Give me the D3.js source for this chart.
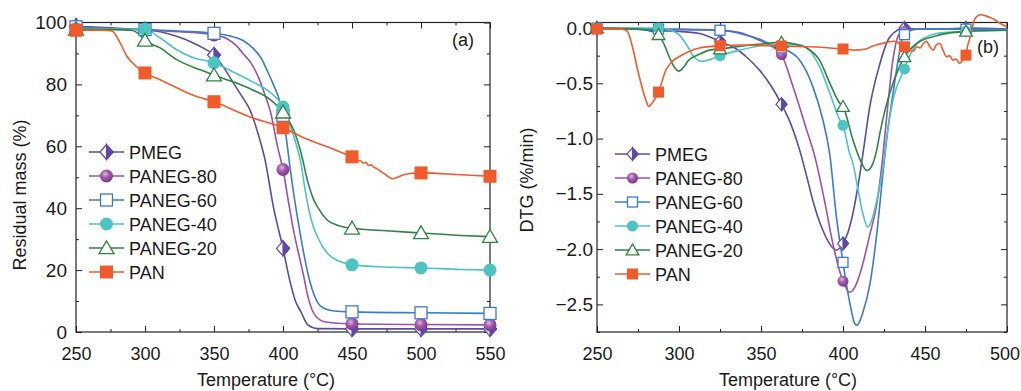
<!DOCTYPE html>
<html>
<head>
<meta charset="utf-8">
<script src="https://cdn.jsdelivr.net/npm/d3@7"></script>
<style>
body { margin: 0; background: #fff; }
svg { font-family: "Liberation Sans", Arial, sans-serif; }
</style>
</head>
<body>
<svg id="chart" width="1021" height="391"></svg>
<script>
// ---- (a) TGA residual mass (%) vs temperature ----
var tgaPMEG = [[250,98.8],[275,98.3],[300,97.6],[311,97],[325,95.2],[335,93.4],[342,91.8],[350,89.5],[357,85.5],[364,80.5],[370,76.3],[376,71.8],[382,64],[387,55.6],[393,40.5],[400,27],[405,16.5],[409,10],[413,6.5],[418,2.3],[425,1.1],[450,1],[500,1],[550,1]];
var tgaPANEG80 = [[250,98.5],[275,98],[300,97.6],[325,97],[350,96],[360,94.6],[366,92.6],[371,90],[377,86.8],[382,82.5],[387,76.5],[391,71],[396,60],[400,52.5],[404,42],[408,32],[412,24],[415,18],[418,11.5],[421,7.2],[425,4.5],[430,3.3],[437,2.9],[450,2.6],[500,2.4],[550,2.3]];
var tgaPANEG60 = [[250,98.6],[275,98],[300,97.7],[325,97.2],[350,96.5],[362,95.6],[371,94.2],[378,91.8],[384,88.6],[389,84],[393,80],[397,75.5],[400,70],[402,64],[404,57],[408,44],[412,33],[415,25.5],[418,19],[421,14],[425,9.6],[430,7.6],[437,6.8],[450,6.5],[500,6.2],[550,6]];
var tgaPANEG40 = [[250,98],[275,97.9],[290,97.8],[300,97.8],[311,95],[323,91.2],[335,88.6],[350,87],[364,84],[378,80.8],[391,77.3],[400,72.7],[405,67],[409,61.5],[413,54.5],[416,46],[419,39],[422,34],[425,30.7],[432,25.5],[440,23],[450,21.7],[475,21],[500,20.7],[529,20.2],[550,20]];
var tgaPANEG20 = [[250,97.8],[275,97.7],[290,97.5],[295,96.5],[300,94.2],[311,91.8],[323,88],[340,84.7],[350,83],[364,80.8],[378,78.2],[391,75],[400,71],[408,65],[413,58],[418,48.5],[422,43],[425,40.4],[432,36.2],[440,34.4],[450,33.5],[475,32.7],[500,32],[529,31.2],[550,30.8]];
var tgaPAN = [[250,97.5],[270,97.5],[276,97.3],[282,93.4],[287,89],[294,85.7],[300,83.7],[311,81.5],[323,78.9],[335,76.5],[350,74.4],[376,69.5],[400,66],[413,63.2],[425,61],[437,59],[450,56.6],[452,56.2],[454,55.2],[456,55.4],[458,54.6],[460,54.8],[462,53.8],[464,54],[466,53.2],[468,52.8],[470,52.2],[472,51.5],[474,51],[476,50.3],[479,49.5],[483,50],[487.5,50.8],[492,51.2],[500,51.4],[529,50.8],[550,50.3]];

// ---- (b) DTG (%/min) vs temperature ----
var dtgPMEG = [[250,0],[284,-0.02],[287.5,-0.025],[300,-0.03],[312.5,-0.05],[325,-0.12],[335,-0.19],[341,-0.26],[349,-0.38],[356,-0.52],[362.5,-0.69],[368,-0.86],[373.5,-1.1],[378,-1.35],[381.6,-1.56],[387.7,-1.83],[393.8,-1.99],[396,-2.01],[398,-1.99],[400,-1.95],[403,-1.85],[406,-1.68],[410,-1.35],[413,-1.05],[416,-0.74],[422,-0.35],[428.6,-0.08],[437.5,0.0],[445,-0.01],[460,-0.01],[475,0.0],[500,-0.01]];
var dtgPANEG80 = [[250,0],[287.5,-0.01],[325,-0.02],[337,-0.04],[349,-0.11],[356,-0.16],[362.5,-0.24],[369.5,-0.53],[377.8,-0.92],[382.6,-1.15],[388.7,-1.56],[393.8,-1.95],[400,-2.29],[404,-2.39],[407,-2.35],[410.4,-2.22],[416.5,-1.86],[420.5,-1.6],[424,-1.2],[427,-0.75],[430.4,-0.29],[434.5,-0.05],[437.5,-0.03],[445,-0.01],[475,-0.01],[500,-0.01]];
var dtgPANEG60 = [[250,0],[287.5,-0.01],[325,-0.02],[340,-0.06],[349,-0.1],[355,-0.14],[362.5,-0.18],[373.5,-0.29],[381.6,-0.53],[387.7,-0.83],[392,-1.15],[396,-1.71],[400,-2.12],[402,-2.31],[405,-2.55],[407,-2.67],[408.5,-2.69],[410,-2.66],[412,-2.58],[416.5,-2.31],[420.6,-1.86],[424.4,-1.31],[427.5,-0.9],[430.4,-0.6],[433.5,-0.3],[436,-0.1],[437.5,-0.06],[445,-0.01],[475,-0.01],[500,-0.01]];
var dtgPANEG40 = [[250,0],[287.5,0],[295,-0.02],[300,-0.06],[305,-0.16],[309,-0.26],[314,-0.3],[320,-0.28],[325,-0.25],[337,-0.2],[350,-0.16],[362.5,-0.15],[372,-0.15],[378,-0.18],[385.7,-0.35],[392,-0.59],[398,-0.83],[400,-0.88],[404,-1.13],[406,-1.22],[409,-1.45],[412,-1.67],[415,-1.8],[417,-1.76],[420.6,-1.56],[424.4,-1.26],[427,-0.95],[430.5,-0.65],[437.5,-0.37],[441,-0.24],[445,-0.14],[451,-0.08],[457,-0.05],[475,-0.03],[500,-0.02]];
var dtgPANEG20 = [[250,0],[275,-0.01],[283,-0.03],[287.5,-0.06],[291,-0.15],[294,-0.26],[297,-0.35],[300,-0.39],[303,-0.35],[306,-0.29],[312,-0.24],[318.6,-0.2],[325,-0.19],[340,-0.16],[350,-0.145],[362.5,-0.13],[372,-0.15],[377.8,-0.18],[385.7,-0.29],[392,-0.5],[398,-0.68],[400,-0.71],[406,-1.01],[410.4,-1.19],[414.6,-1.29],[417.5,-1.25],[420.6,-1.1],[422.5,-0.95],[426,-0.72],[430.5,-0.5],[437.5,-0.26],[445,-0.14],[457,-0.07],[475,-0.03],[500,-0.02]];
var dtgPAN = [[250,-0.01],[265,-0.01],[268.5,-0.03],[271.6,-0.17],[274.8,-0.38],[277.9,-0.56],[280,-0.66],[281.5,-0.71],[283.5,-0.68],[287.5,-0.58],[292,-0.38],[296,-0.3],[300,-0.26],[312.5,-0.18],[325,-0.16],[337,-0.154],[362.5,-0.163],[380,-0.17],[400,-0.19],[408,-0.2],[414,-0.19],[418,-0.163],[421,-0.15],[426.6,-0.13],[431,-0.12],[437.5,-0.17],[440,-0.19],[442.7,-0.21],[445,-0.17],[447,-0.18],[449,-0.14],[451,-0.12],[453,-0.17],[455,-0.2],[457,-0.15],[459,-0.14],[461,-0.2],[463,-0.26],[465,-0.25],[467,-0.29],[469,-0.28],[471,-0.32],[472.5,-0.3],[475,-0.245],[476,-0.16],[477,-0.11],[478.5,-0.02],[480,0.07],[482,0.11],[484,0.12],[487,0.11],[489,0.1],[492,0.08],[495.5,0.045],[500,0.01]];

var seriesNames = ["PMEG", "PANEG-80", "PANEG-60", "PANEG-40", "PANEG-20", "PAN"];
var seriesColors = ["#5a4ca6", "#9b52a7", "#3b7cc9", "#4ec4c2", "#2f8443", "#f15a2b"];
var seriesMarkers = ["halfDiamond", "sphere", "openSquare", "circle", "openTriangle", "square"];

var tgaMarkerTemps = [250, 300, 350, 400, 450, 500, 550];
var dtgMarkerTemps = [250, 287.5, 325, 362.5, 400, 437.5, 475];

var tgaXTicks = [250, 300, 350, 400, 450, 500, 550];
var tgaYTicks = [0, 20, 40, 60, 80, 100];
var dtgXTicks = [250, 300, 350, 400, 450, 500];
var dtgYTicks = [0, -0.5, -1.0, -1.5, -2.0, -2.5];

var svg = d3.select("svg#chart");

var defs = svg.append("defs");
var grad = defs.append("radialGradient")
    .attr("id", "sphereGrad")
    .attr("cx", "40%").attr("cy", "35%").attr("r", "65%");
grad.append("stop").attr("offset", "0%").attr("stop-color", "#d9b8df");
grad.append("stop").attr("offset", "45%").attr("stop-color", "#a35aae");
grad.append("stop").attr("offset", "100%").attr("stop-color", "#7c3789");

function drawMarker(g, type, color, s) {
    if (type == "halfDiamond") {
        g.append("path")
            .attr("d", "M0," + (-s * 1.15) + "L" + s + ",0L0," + (s * 1.15) + "L" + (-s) + ",0Z")
            .attr("fill", "#fff").attr("stroke", color).attr("stroke-width", 1.2);
        g.append("path")
            .attr("d", "M0," + (-s * 1.15) + "L" + s + ",0L0," + (s * 1.15) + "Z")
            .attr("fill", color).attr("stroke", color).attr("stroke-width", 1.2);
    } else if (type == "sphere") {
        g.append("circle").attr("r", s).attr("fill", "url(#sphereGrad)");
    } else if (type == "openSquare") {
        g.append("rect").attr("x", -s + 0.5).attr("y", -s + 0.5)
            .attr("width", 2 * s - 1).attr("height", 2 * s - 1)
            .attr("fill", "#fff").attr("stroke", color).attr("stroke-width", 1.3);
    } else if (type == "circle") {
        g.append("circle").attr("r", s).attr("fill", color);
    } else if (type == "openTriangle") {
        var h = s * 1.1;
        g.append("path")
            .attr("d", "M0," + (-h) + "L" + (s * 1.15) + "," + (h * 0.8) + "L" + (-s * 1.15) + "," + (h * 0.8) + "Z")
            .attr("fill", "#fff").attr("stroke", color).attr("stroke-width", 1.3);
    } else if (type == "square") {
        g.append("rect").attr("x", -s).attr("y", -s)
            .attr("width", 2 * s).attr("height", 2 * s).attr("fill", color);
    }
}

function minorTicks(major) {
    var out = [];
    for (var i = 0; i < major.length - 1; i++) {
        out.push((major[i] + major[i + 1]) / 2);
    }
    return out;
}

function drawPanel(opt) {
    var g = svg.append("g");

    var x = d3.scaleLinear().domain(opt.xDomain).range([opt.left, opt.right]);
    var y = d3.scaleLinear().domain(opt.yDomain).range([opt.bottom, opt.top]);

    var xMinor = minorTicks(opt.xTicks);
    var yMinor = minorTicks(opt.yTicks.slice().sort(d3.ascending));
    if (opt.yExtraMinor) yMinor = yMinor.concat(opt.yExtraMinor);

    // major/minor ticks, pointing inward on all four sides
    var axes = [
        { a: d3.axisBottom(x), tr: "translate(0," + opt.bottom + ")", major: opt.xTicks, minor: xMinor, label: true, fmt: d3.format("d"), pad: 15, size: "18px" },
        { a: d3.axisTop(x), tr: "translate(0," + opt.top + ")", major: opt.xTicks, minor: xMinor, label: false },
        { a: d3.axisLeft(y), tr: "translate(" + opt.left + ",0)", major: opt.yTicks, minor: yMinor, label: true, fmt: opt.yFormat, pad: opt.yPad, size: "19px" },
        { a: d3.axisRight(y), tr: "translate(" + opt.right + ",0)", major: opt.yTicks, minor: yMinor, label: false }
    ];
    axes.forEach(function(ax, k) {
        var ag = g.append("g").attr("transform", ax.tr)
            .call(ax.a.tickValues(ax.major).tickSize(-6).tickPadding(ax.pad || 3)
                .tickFormat(ax.label ? ax.fmt : ""));
        ag.select(".domain").remove();
        ag.selectAll("text").style("font-size", ax.size || "18px").attr("fill", "#1a1a1a");
        ag.selectAll("line").attr("stroke", "#222");
        var mg = g.append("g").attr("transform", ax.tr)
            .call(ax.a.tickValues(ax.minor).tickSize(-3).tickFormat(""));
        mg.select(".domain").remove();
        mg.selectAll("line").attr("stroke", "#222");
        if (k == 0 && opt.lastLabelShift) {
            ag.selectAll(".tick text").filter(function(d) { return d == opt.xDomain[1]; })
                .attr("dx", opt.lastLabelShift);
        }
    });

    g.append("rect")
        .attr("x", opt.left).attr("y", opt.top)
        .attr("width", opt.right - opt.left).attr("height", opt.bottom - opt.top)
        .attr("fill", "none").attr("stroke", "#222").attr("stroke-width", 1.2);

    var line = d3.line()
        .x(function(d) { return x(d[0]); })
        .y(function(d) { return y(d[1]); })
        .curve(d3.curveMonotoneX);

    opt.series.forEach(function(data, i) {
        g.append("path")
            .datum(data)
            .attr("d", line)
            .attr("fill", "none")
            .attr("stroke", seriesColors[i])
            .attr("stroke-width", 1.6);
    });

    opt.series.forEach(function(data, i) {
        var pts = data.filter(function(d) { return opt.markerTemps.indexOf(d[0]) >= 0; });
        pts.forEach(function(d) {
            var mg = g.append("g").attr("transform", "translate(" + x(d[0]) + "," + y(d[1]) + ")");
            drawMarker(mg, seriesMarkers[i], seriesColors[i], opt.markerSize);
        });
    });

    // legend
    seriesNames.forEach(function(name, i) {
        var ly = opt.legendY + i * 24;
        g.append("line")
            .attr("x1", opt.legendX).attr("x2", opt.legendX + 35)
            .attr("y1", ly).attr("y2", ly)
            .attr("stroke", seriesColors[i]).attr("stroke-width", 1.6);
        var mg = g.append("g").attr("transform", "translate(" + (opt.legendX + 17.5) + "," + ly + ")");
        drawMarker(mg, seriesMarkers[i], seriesColors[i], opt.markerSize);
        g.append("text")
            .attr("x", opt.legendX + 40).attr("y", ly + 6.5)
            .style("font-size", "18px").attr("fill", "#1a1a1a")
            .text(name);
    });

    g.append("text")
        .attr("x", opt.xTitleX).attr("y", 386)
        .style("text-anchor", "middle").style("font-size", "18px").attr("fill", "#1a1a1a")
        .text("Temperature (°C)");

    g.append("text")
        .attr("transform", "translate(" + opt.yTitleX + "," + opt.yTitleY + ") rotate(-90)")
        .style("text-anchor", "middle").style("font-size", "18px").attr("fill", "#1a1a1a")
        .text(opt.yTitle);

    g.append("text")
        .attr("x", opt.tagX).attr("y", opt.tagY)
        .style("font-size", "18px").attr("fill", "#1a1a1a")
        .text(opt.tag);
}

drawPanel({
    left: 76, right: 490, top: 22.5, bottom: 332,
    xDomain: [250, 550], yDomain: [0, 100],
    xTicks: tgaXTicks, yTicks: tgaYTicks,
    yFormat: d3.format("d"), yPad: 9,
    series: [tgaPMEG, tgaPANEG80, tgaPANEG60, tgaPANEG40, tgaPANEG20, tgaPAN],
    markerTemps: tgaMarkerTemps, markerSize: 6.5,
    legendX: 89, legendY: 152,
    xTitleX: 266, yTitleX: 26, yTitleY: 195, yTitle: "Residual mass (%)",
    tag: "(a)", tagX: 452, tagY: 46
});

drawPanel({
    left: 597, right: 1007, top: 22.5, bottom: 332,
    xDomain: [250, 500], yDomain: [-2.75, 0.05],
    xTicks: dtgXTicks, yTicks: dtgYTicks, yExtraMinor: [-2.75],
    yFormat: d3.format(".1f"), yPad: 4, lastLabelShift: -2.5,
    series: [dtgPMEG, dtgPANEG80, dtgPANEG60, dtgPANEG40, dtgPANEG20, dtgPAN],
    markerTemps: dtgMarkerTemps, markerSize: 5.5,
    legendX: 615, legendY: 154,
    xTitleX: 788, yTitleX: 533, yTitleY: 180, yTitle: "DTG (%/min)",
    tag: "(b)", tagX: 977, tagY: 53
});
</script>
</body>
</html>
